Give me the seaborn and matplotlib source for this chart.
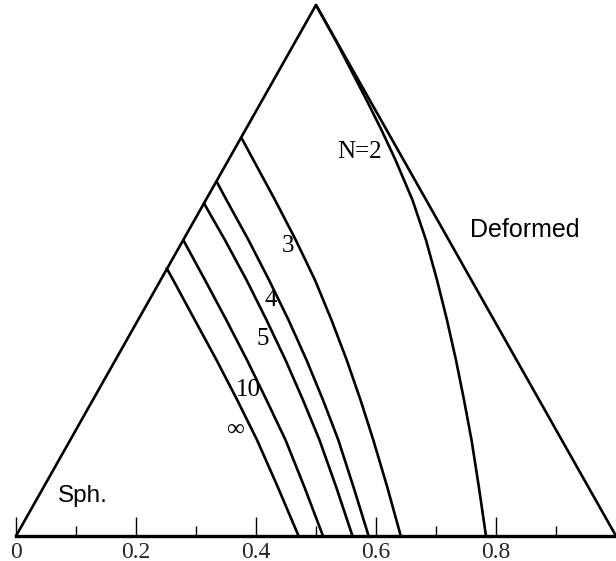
import numpy as np
import pandas as pd
import matplotlib
matplotlib.use("Agg")
import matplotlib.pyplot as plt
import seaborn as sns

# Phase-boundary curves inside the triangle (x along the base, y upward,
# apex at height sqrt(3)/2). Each curve runs from the left edge to the base.
H = np.sqrt(3) / 2

n2_x = [0.5000, 0.5325, 0.5583, 0.5842, 0.6092, 0.6325, 0.6608, 0.6833,
        0.7017, 0.7183, 0.7333, 0.7467, 0.7592, 0.7717, 0.7833]
n2_y = [0.8660, 0.8089, 0.7600, 0.7111, 0.6621, 0.6132, 0.5480, 0.4827,
        0.4175, 0.3523, 0.2870, 0.2218, 0.1566, 0.0783, 0.0000]

n3_x = [0.3762, 0.4047, 0.4317, 0.4663, 0.4983, 0.5258, 0.5512, 0.5742,
        0.5955, 0.6192, 0.6413]
n3_y = [0.6486, 0.5969, 0.5480, 0.4827, 0.4175, 0.3523, 0.2870, 0.2218,
        0.1566, 0.0783, 0.0000]

n4_x = [0.3345, 0.3508, 0.3875, 0.4217, 0.4542, 0.4842, 0.5117, 0.5372,
        0.5630, 0.5877]
n4_y = [0.5778, 0.5480, 0.4827, 0.4175, 0.3523, 0.2870, 0.2218, 0.1566,
        0.0783, 0.0000]

n5_x = [0.3133, 0.3483, 0.3842, 0.4175, 0.4492, 0.4783, 0.5058, 0.5342, 0.5608]
n5_y = [0.5426, 0.4827, 0.4175, 0.3523, 0.2870, 0.2218, 0.1566, 0.0783, 0.0000]

n10_x = [0.2788, 0.3150, 0.3505, 0.3850, 0.4175, 0.4492, 0.4813, 0.5117]
n10_y = [0.4827, 0.4175, 0.3523, 0.2870, 0.2218, 0.1566, 0.0783, 0.0000]

ninf_x = [0.2512, 0.2620, 0.2980, 0.3342, 0.3687, 0.4017, 0.4370, 0.4710]
ninf_y = [0.4366, 0.4175, 0.3523, 0.2870, 0.2218, 0.1566, 0.0783, 0.0000]

curve_labels = ["N=2", "3", "4", "5", "10", "\u221e"]

tick_values = [0.0, 0.2, 0.4, 0.6, 0.8]
tick_labels = ["0", "0.2", "0.4", "0.6", "0.8"]
minor_values = [0.1, 0.3, 0.5, 0.7, 0.9]

frames = []
for name, xs, ys in zip(curve_labels,
                        [n2_x, n3_x, n4_x, n5_x, n10_x, ninf_x],
                        [n2_y, n3_y, n4_y, n5_y, n10_y, ninf_y]):
    frames.append(pd.DataFrame({"x": xs, "y": ys, "N": name}))
curves = pd.concat(frames, ignore_index=True)

sns.set_theme(style="white")
plt.rcParams["font.family"] = ["Liberation Serif", "DejaVu Serif"]

fig = plt.figure(figsize=(6.16, 5.61), dpi=100)
ax = fig.add_axes([16 / 616, 25 / 561, 600 / 616, 536 / 561])

LW = 1.9
# triangle outline (the base is the x-axis spine)
edge = pd.DataFrame({"x": [0.0, 0.5, 1.0], "y": [0.0, H, 0.0]})
sns.lineplot(data=edge, x="x", y="y", sort=False, estimator=None,
             color="black", lw=LW, ax=ax, clip_on=False)

sns.lineplot(data=curves, x="x", y="y", units="N", sort=False, estimator=None,
             color="black", lw=LW, ax=ax, clip_on=False, legend=False)

ax.set_xlim(0, 1)
ax.set_ylim(0, H * 536 / 531)
ax.set_xlabel("")
ax.set_ylabel("")
for s in ["left", "right", "top"]:
    ax.spines[s].set_visible(False)
ax.spines["bottom"].set_linewidth(2.4)
ax.spines["bottom"].set_color("black")
ax.set_yticks([])
ax.set_xticks(tick_values)
ax.set_xticklabels(tick_labels, fontsize=17, family=["Liberation Serif"])
ax.set_xticks(minor_values, minor=True)
ax.tick_params(axis="x", which="major", direction="in", length=13.6, width=1.0,
               color="black", pad=4, bottom=True)
ax.tick_params(axis="x", which="minor", direction="in", length=7.0, width=1.0,
               color="black", bottom=True)

label_pos = [(0.572, 0.626), (0.453, 0.473), (0.424, 0.385),
             (0.411, 0.322), (0.387, 0.238), (0.365, 0.173)]
for text, (lx, ly) in zip(curve_labels, label_pos):
    ax.text(lx, ly, text, fontsize=18, ha="center", va="center",
            family=["Liberation Serif", "DejaVu Serif"], color="black")

ax.text(0.0705, 0.056, "Sph.", fontsize=17.5, ha="left", va="baseline",
        family=["Liberation Sans"], color="black")
ax.text(0.757, 0.488, "Deformed", fontsize=18, ha="left", va="baseline",
        family=["Liberation Sans"], color="black")

fig.savefig("out.png", dpi=100)
